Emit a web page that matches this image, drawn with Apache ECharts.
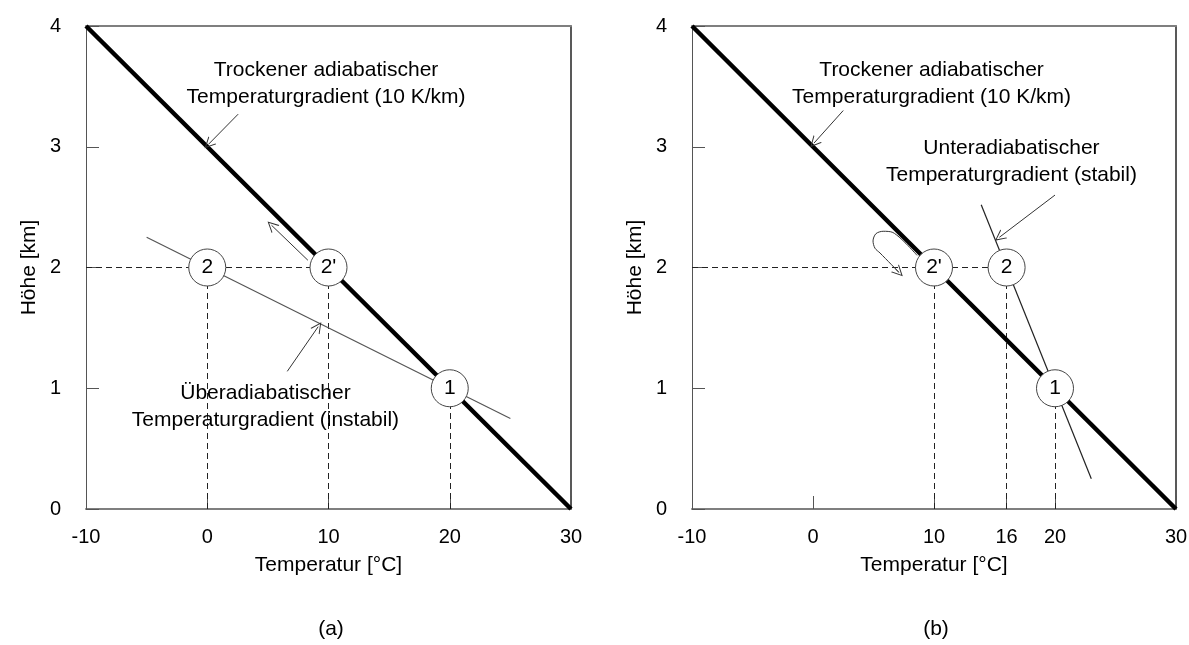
<!DOCTYPE html>
<html>
<head>
<meta charset="utf-8">
<script src="https://cdn.jsdelivr.net/npm/echarts@6/dist/echarts.min.js"></script>
<style>
  html, body { margin: 0; padding: 0; background: #fff; }
  #chart { width: 1189px; height: 645px; }
</style>
</head>
<body>
<div id="chart"></div>
<script>
// Achsen
const tempTicksA = [-10, 0, 10, 20, 30];
const tempTicksB = [-10, 0, 10, 16, 20, 30];
const heightTicks = [0, 1, 2, 3, 4];

// Trockenadiabate (10 K/km)
const dryAdiabat = [[-10, 4], [30, 0]];

// (a) überadiabatisch
const superAdiabat = [[-5, 2.25], [25, 0.75]];
const parcelNamesA = ['2', "2'", '1'];
const parcelPointsA = [[0, 2], [10, 2], [20, 1]];
const guidesA = [
    [[-10, 2], [10, 2]],
    [[0, 0], [0, 2]],
    [[10, 0], [10, 2]],
    [[20, 0], [20, 1]]
];
const arrowsA = [
    [[2.55, 3.27], [0.1, 3.02]],
    [[8.3, 2.06], [5.3, 2.35]],
    [[6.6, 1.14], [9.15, 1.51]]
];

// (b) unteradiabatisch
const subAdiabat = [[13.9, 2.52], [23, 0.25]];
const parcelNamesB = ["2'", '2', '1'];
const parcelPointsB = [[10, 2], [16, 2], [20, 1]];
const guidesB = [
    [[-10, 2], [16, 2]],
    [[10, 0], [10, 2]],
    [[16, 0], [16, 2]],
    [[20, 0], [20, 1]]
];
const arrowsB = [
    [[2.5, 3.3], [0.08, 3.03]],
    [[20.0, 2.6], [15.4, 2.25]],
    [[6.8, 1.99], [7.1, 1.96]]
];
const returnLoopB = [[8.6, 2.10], [6.6, 2.29], [5.8, 2.30], [5.2, 2.28], [4.96, 2.22],
    [5.12, 2.16], [5.54, 2.12], [7.1, 1.96]];

// Beschriftungen
const dryLabel = 'Trockener adiabatischer\nTemperaturgradient (10 K/km)';
const dryLabelPos = [9.8, 3.52];
const superLabel = 'Überadiabatischer\nTemperaturgradient (instabil)';
const superLabelPos = [4.8, 0.85];
const subLabel = 'Unteradiabatischer\nTemperaturgradient (stabil)';
const subLabelPos = [16.4, 2.88];

const font = 'Liberation Sans, Arial, sans-serif';
const chevron = 'path://M5,0 L10,10 L9,10 L5,2 L1,10 L0,10 Z';

const chart = echarts.init(document.getElementById('chart'));

function bottomAxis(grid, ticks) {
    return {
        type: 'value', gridIndex: grid, min: -10, max: 30, interval: 10,
        name: 'Temperatur [°C]', nameLocation: 'middle', nameGap: 46,
        nameTextStyle: { fontFamily: font, fontSize: 21, color: '#000' },
        splitLine: { show: false },
        axisLine: { onZero: false, lineStyle: { color: '#7f7f7f', width: 2 } },
        axisTick: { inside: true, length: 13, customValues: ticks, lineStyle: { color: '#555' } },
        axisLabel: { customValues: ticks, margin: 18, fontFamily: font, fontSize: 20, color: '#000' }
    };
}
function topAxis(grid) {
    return {
        type: 'value', gridIndex: grid, position: 'top', min: -10, max: 30,
        axisLine: { onZero: false, lineStyle: { color: '#7f7f7f', width: 2 } },
        axisTick: { show: false }, axisLabel: { show: false }, splitLine: { show: false }
    };
}
function leftAxis(grid) {
    return {
        type: 'value', gridIndex: grid, min: 0, max: 4, interval: 1,
        name: 'Höhe [km]', nameLocation: 'middle', nameGap: 46,
        nameTextStyle: { fontFamily: font, fontSize: 21, color: '#000' },
        splitLine: { show: false },
        axisLine: { show: true, onZero: false, lineStyle: { color: '#555', width: 1 } },
        axisTick: { inside: true, length: 13, lineStyle: { color: '#555' } },
        axisLabel: { margin: 25, fontFamily: font, fontSize: 20, color: '#000' }
    };
}
function rightAxis(grid) {
    return {
        type: 'value', gridIndex: grid, position: 'right', min: 0, max: 4,
        axisLine: { show: true, onZero: false, lineStyle: { color: '#222', width: 1.5 } },
        axisTick: { show: false }, axisLabel: { show: false }, splitLine: { show: false }
    };
}

function panelSeries(ax, guides, thinLine, thinColor, names, points, arrows, labels) {
    return [
        {
            type: 'lines', coordinateSystem: 'cartesian2d', xAxisIndex: ax, yAxisIndex: ax,
            symbol: ['none', 'none'], silent: true, z: 1,
            lineStyle: { color: '#222', width: 1, type: [6, 4], opacity: 1 },
            data: guides.map(g => ({ coords: g }))
        },
        {
            type: 'line', xAxisIndex: ax, yAxisIndex: ax, showSymbol: false, z: 2,
            lineStyle: { color: thinColor, width: 1.2 }, data: thinLine
        },
        {
            type: 'line', xAxisIndex: ax, yAxisIndex: ax, showSymbol: false, z: 3,
            lineStyle: { color: '#000', width: 4.5 }, data: dryAdiabat
        },
        {
            type: 'lines', coordinateSystem: 'cartesian2d', xAxisIndex: ax, yAxisIndex: ax,
            symbol: ['none', chevron], symbolSize: 11, silent: true, z: 4,
            lineStyle: { color: '#333', width: 1, opacity: 1 },
            data: arrows.map(a => ({ coords: a }))
        },
        {
            type: 'scatter', xAxisIndex: ax, yAxisIndex: ax, symbolSize: 37, z: 5,
            itemStyle: { color: '#fff', borderColor: '#444', borderWidth: 1, opacity: 1 },
            label: {
                show: true, position: 'inside', fontFamily: font, fontSize: 21, color: '#000',
                formatter: p => names[p.dataIndex]
            },
            data: points
        },
        {
            type: 'scatter', xAxisIndex: ax, yAxisIndex: ax, symbolSize: 0, z: 6,
            itemStyle: { opacity: 1 },
            label: {
                show: true, position: 'inside', fontFamily: font, fontSize: 21, color: '#000',
                lineHeight: 27, align: 'center',
                formatter: p => labels[p.dataIndex][0]
            },
            data: labels.map(l => l[1])
        }
    ];
}

const seriesA = panelSeries(0, guidesA, superAdiabat, '#555', parcelNamesA, parcelPointsA, arrowsA,
    [[dryLabel, dryLabelPos], [superLabel, superLabelPos]]);
const seriesB = panelSeries(2, guidesB, subAdiabat, '#222', parcelNamesB, parcelPointsB, arrowsB,
    [[dryLabel, dryLabelPos], [subLabel, subLabelPos]]);
seriesB.push({
    type: 'line', xAxisIndex: 2, yAxisIndex: 2, showSymbol: false, smooth: 0.3, z: 4,
    lineStyle: { color: '#333', width: 1 }, data: returnLoopB
});

chart.setOption({
    animation: false,
    grid: [
        { left: 86, right: 618, top: 26, bottom: 136, outerBoundsMode: 'none' },
        { left: 692, right: 13, top: 26, bottom: 136, outerBoundsMode: 'none' }
    ],
    xAxis: [bottomAxis(0, tempTicksA), topAxis(0), bottomAxis(1, tempTicksB), topAxis(1)],
    yAxis: [leftAxis(0), rightAxis(0), leftAxis(1), rightAxis(1)],
    graphic: [
        { type: 'text', x: 331, y: 629, style: { text: '(a)', font: '21px ' + font, fill: '#000', textAlign: 'center', textVerticalAlign: 'middle' } },
        { type: 'text', x: 936, y: 629, style: { text: '(b)', font: '21px ' + font, fill: '#000', textAlign: 'center', textVerticalAlign: 'middle' } }
    ],
    series: seriesA.concat(seriesB)
});

window.addEventListener('resize', function() {
    chart.resize();
});
</script>
</body>
</html>
